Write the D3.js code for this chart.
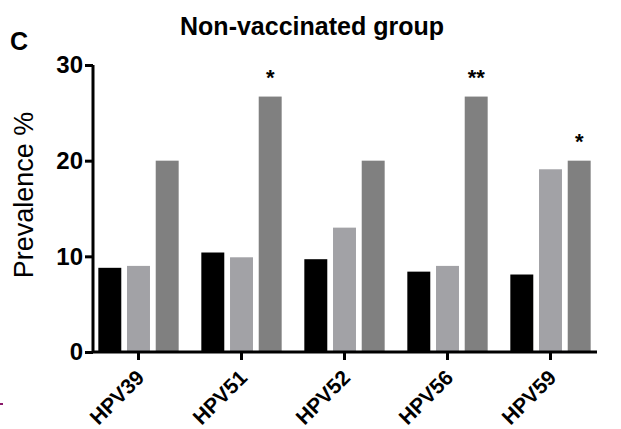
<!DOCTYPE html>
<html>
<head>
<meta charset="utf-8">
<script src="https://cdn.jsdelivr.net/npm/d3@7"></script>
<style>
  body { margin: 0; background: #fff; }
  svg { display: block; }
  text { font-family: 'Liberation Sans', Arial, sans-serif; }
</style>
</head>
<body>
<svg id="chart" width="621" height="429"></svg>
<script>
'use strict'

// prevalence % per HPV type, three groups
var categories = ['HPV39', 'HPV51', 'HPV52', 'HPV56', 'HPV59']
var seriesNames = ['g1', 'g2', 'g3']
var group1 = [8.8, 10.4, 9.7, 8.4, 8.1]
var group2 = [9.0, 9.9, 13.0, 9.0, 19.1]
var group3 = [20.0, 26.7, 20.0, 26.7, 20.0]
var stars = ['', '*', '', '**', '*']
var yTicks = [0, 10, 20, 30]

var seriesValues = [group1, group2, group3]
var colors = ['#000000', '#a2a2a6', '#808080']

var svg = d3.select('#chart')

var x0 = d3.scaleBand()
  .domain(categories)
  .range([87, 602])
  .paddingInner(0.22)
  .paddingOuter(0.11)

var x1 = d3.scaleBand()
  .domain(seriesNames)
  .range([0, x0.bandwidth()])
  .paddingInner(0.2)

var y = d3.scaleLinear()
  .domain([0, 30])
  .range([352, 65])

// bars
var groups = svg.append('g')
  .selectAll('g')
  .data(categories)
  .enter().append('g')
    .attr('transform', (d) => 'translate(' + x0(d) + ',0)')

groups.selectAll('rect')
  .data((d, i) => seriesNames.map((s, j) => ({ s: s, v: seriesValues[j][i], c: colors[j] })))
  .enter().append('rect')
    .attr('x', (d) => x1(d.s))
    .attr('width', x1.bandwidth())
    .attr('y', (d) => y(d.v))
    .attr('height', (d) => y(0) - y(d.v))
    .attr('fill', (d) => d.c)

// significance marks over the third bar
groups.append('text')
  .attr('x', x1('g3') + x1.bandwidth() / 2)
  .attr('y', (d, i) => y(group3[i]) - 12)
  .attr('text-anchor', 'middle')
  .attr('font-weight', 'bold')
  .attr('font-size', 22)
  .text((d, i) => stars[i])

// y axis
var yAxis = svg.append('g')
  .attr('transform', 'translate(93,0)')
  .call(d3.axisLeft(y).tickValues(yTicks).tickSize(8).tickPadding(2))
yAxis.select('.domain').attr('stroke-width', 3).attr('d', 'M0,' + y(30) + 'V' + y(0))
yAxis.selectAll('.tick line').attr('stroke-width', 3)
yAxis.selectAll('.tick text')
  .attr('font-size', 24)
  .attr('font-weight', 'bold')
  .attr('fill', '#000')

// x axis
var xAxis = svg.append('g')
  .attr('transform', 'translate(0,352)')
  .call(d3.axisBottom(x0).tickSize(8).tickSizeOuter(0))
xAxis.select('.domain').attr('stroke-width', 3).attr('d', 'M92,0H597')
xAxis.selectAll('.tick line').attr('stroke-width', 3)
xAxis.selectAll('.tick text')
  .attr('font-size', 21)
  .attr('font-weight', 'bold')
  .attr('fill', '#000')
  .attr('text-anchor', 'end')
  .attr('dy', 0)
  .attr('y', 0)
  .attr('x', 0)
  .attr('transform', 'translate(7,27) rotate(-45)')

// y label
svg.append('text')
  .attr('transform', 'translate(33,195) rotate(-90)')
  .attr('text-anchor', 'middle')
  .attr('font-size', 27)
  .text('Prevalence %')

// title and panel letter
svg.append('text')
  .attr('x', 312)
  .attr('y', 35)
  .attr('text-anchor', 'middle')
  .attr('font-size', 25)
  .attr('font-weight', 'bold')
  .text('Non-vaccinated group')

svg.append('text')
  .attr('x', 10)
  .attr('y', 50)
  .attr('font-size', 25)
  .attr('font-weight', 'bold')
  .text('C')

// small stray mark at the left edge of the original figure
svg.append('rect')
  .attr('x', 0)
  .attr('y', 403)
  .attr('width', 3)
  .attr('height', 2)
  .attr('fill', '#8a1a6a')
</script>
</body>
</html>
